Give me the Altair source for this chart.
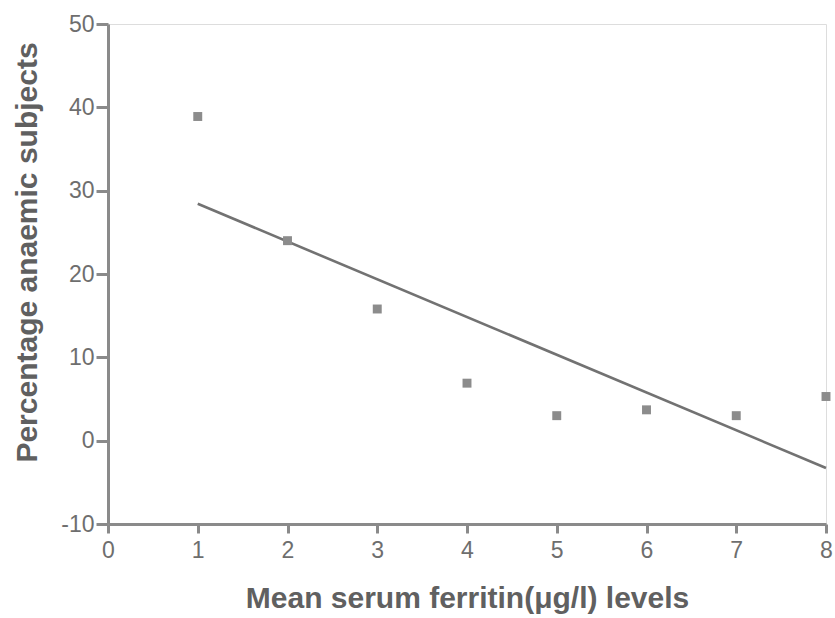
import altair as alt
import pandas as pd

ferritin = [1, 2, 3, 4, 5, 6, 7, 8]
pct_anaemic = [38.9, 24.0, 15.8, 6.9, 3.0, 3.7, 3.0, 5.3]

df = pd.DataFrame({"x": ferritin, "y": pct_anaemic})

FONT = "Liberation Sans"

xs = alt.Scale(domain=[0, 8], nice=False, zero=False)
ys = alt.Scale(domain=[-10, 50], nice=False, zero=False)

xaxis = alt.Axis(
    title="Mean serum ferritin(\u03bcg/l) levels",
    values=list(range(0, 9)), labelExpr="'' + datum.value", grid=False,
    labelFlush=False, labelOverlap=False,
    domainColor="#8a8a8a", domainWidth=3, tickColor="#8a8a8a", tickWidth=3,
    tickSize=9, labelPadding=6, labelFontSize=23, labelColor="#6e6e6e",
    labelFont=FONT, titleFont=FONT, titleFontSize=30, titleFontWeight="bold",
    titleColor="#606060", titlePadding=21,
)
yaxis = alt.Axis(
    title="Percentage anaemic subjects",
    values=list(range(-10, 51, 10)), labelExpr="'' + datum.value", grid=False,
    labelFlush=False, labelOverlap=False,
    domainColor="#8a8a8a", domainWidth=3, tickColor="#8a8a8a", tickWidth=3,
    tickSize=12, labelPadding=2, labelFontSize=23, labelColor="#6e6e6e",
    labelFont=FONT, titleFont=FONT, titleFontSize=30, titleFontWeight="bold",
    titleColor="#606060", titlePadding=18, titleY=228,
)

points = alt.Chart(df).mark_square(size=80, color="#8c8c8c", opacity=1).encode(
    x=alt.X("x:Q", scale=xs, axis=xaxis),
    y=alt.Y("y:Q", scale=ys, axis=yaxis),
)

line = alt.Chart(df).transform_regression("x", "y", extent=[1, 8]).mark_line(
    color="#727272", strokeWidth=2.6
).encode(
    x=alt.X("x:Q", scale=xs),
    y=alt.Y("y:Q", scale=ys),
)

chart = (line + points).properties(
    width=718, height=500,
    autosize=alt.AutoSizeParams(type="none"),
    padding={"left": 108, "top": 24, "right": 9, "bottom": 94},
).configure_view(stroke=None).configure(background="white")

chart.save("out.html", embed_options={"renderer": "svg", "actions": False})
